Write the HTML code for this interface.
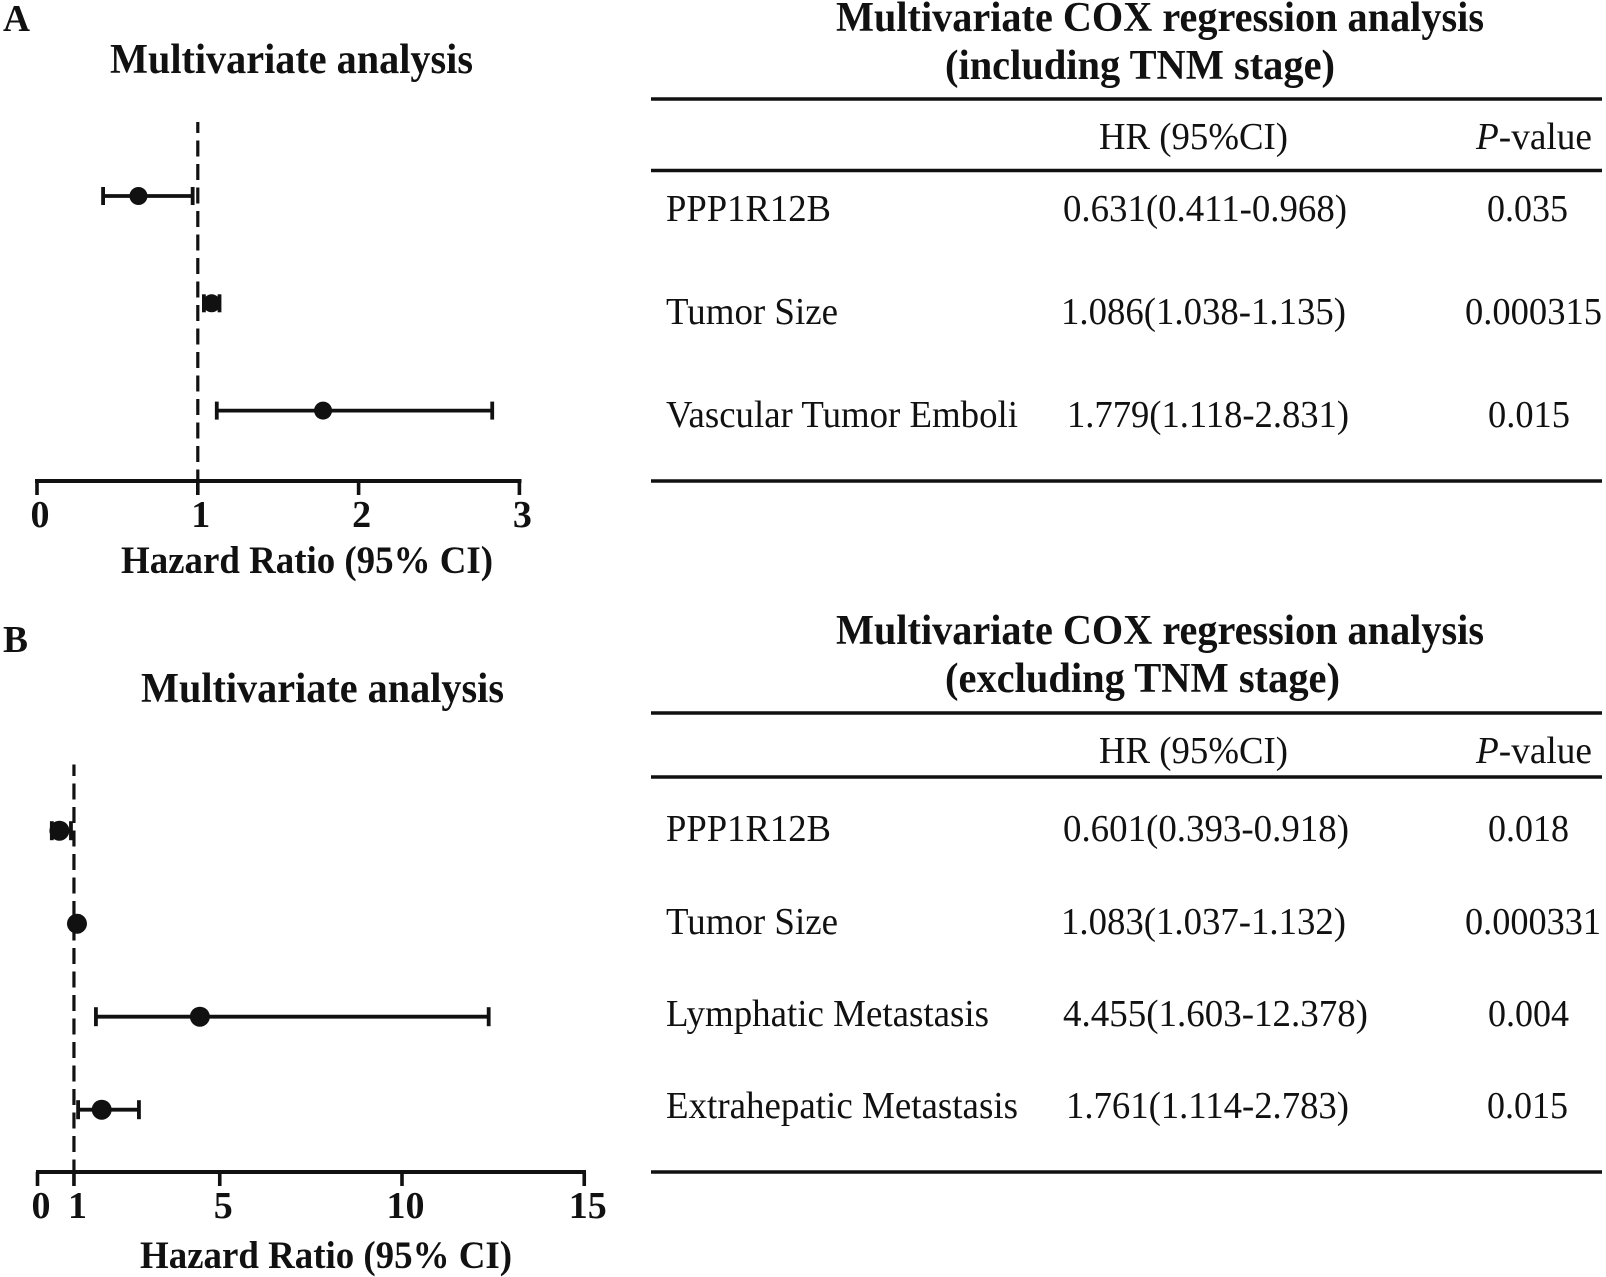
<!DOCTYPE html>
<html lang="en">
<head>
<meta charset="utf-8">
<title>Multivariate analysis forest plots and COX regression tables</title>
<style>
  html, body { margin: 0; padding: 0; background: #fff; }
  body { width: 1606px; height: 1277px; overflow: hidden; }
  svg { display: block; font-family: "Liberation Serif", serif; fill: #111; }
  .b { font-weight: bold; }
  .title { font-size: 42px; font-weight: bold; }
  .cell { font-size: 38px; }
  .panel { font-size: 38px; font-weight: bold; }
  .rule { stroke: #111; stroke-width: 3.6px; }
</style>
</head>
<body>
<svg id="fig" xmlns="http://www.w3.org/2000/svg" width="1606" height="1277" viewBox="0 0 1606 1277">
  <rect x="0" y="0" width="1606" height="1277" fill="#fff"/>

  <text class="panel" x="3" y="31" textLength="27" lengthAdjust="spacingAndGlyphs">A</text>
  <text class="panel" x="3" y="652" textLength="25" lengthAdjust="spacingAndGlyphs">B</text>

  <text class="title" x="110" y="73" textLength="363" lengthAdjust="spacingAndGlyphs">Multivariate analysis</text>
  <text class="title" x="141" y="702" textLength="363" lengthAdjust="spacingAndGlyphs">Multivariate analysis</text>

  <g id="forest-a"></g>
  <g id="forest-b"></g>

  <text class="b" font-size="39" x="121" y="573" textLength="372" lengthAdjust="spacingAndGlyphs">Hazard Ratio (95% CI)</text>
  <text class="b" font-size="39" x="140" y="1268" textLength="372" lengthAdjust="spacingAndGlyphs">Hazard Ratio (95% CI)</text>

  <g>
    <text class="title" x="836" y="31" textLength="648" lengthAdjust="spacingAndGlyphs">Multivariate COX regression analysis</text>
    <text class="title" x="945" y="79" textLength="390" lengthAdjust="spacingAndGlyphs">(including TNM stage)</text>
    <line class="rule" x1="651" x2="1602" y1="99" y2="99"/>
    <text class="cell" x="1099" y="149" textLength="189" lengthAdjust="spacingAndGlyphs">HR (95%CI)</text>
    <text class="cell" x="1476" y="149" textLength="116" lengthAdjust="spacingAndGlyphs"><tspan font-style="italic">P</tspan>-value</text>
    <line class="rule" x1="651" x2="1602" y1="170.5" y2="170.5"/>

    <text class="cell" x="666" y="221" textLength="165" lengthAdjust="spacingAndGlyphs">PPP1R12B</text>
    <text class="cell" x="1063" y="221" textLength="284" lengthAdjust="spacingAndGlyphs">0.631(0.411-0.968)</text>
    <text class="cell" x="1487" y="221" textLength="81" lengthAdjust="spacingAndGlyphs">0.035</text>

    <text class="cell" x="666" y="324" textLength="172" lengthAdjust="spacingAndGlyphs">Tumor Size</text>
    <text class="cell" x="1061" y="324" textLength="285" lengthAdjust="spacingAndGlyphs">1.086(1.038-1.135)</text>
    <text class="cell" x="1465" y="324" textLength="137" lengthAdjust="spacingAndGlyphs">0.000315</text>

    <text class="cell" x="666" y="427" textLength="352" lengthAdjust="spacingAndGlyphs">Vascular Tumor Emboli</text>
    <text class="cell" x="1067" y="427" textLength="282" lengthAdjust="spacingAndGlyphs">1.779(1.118-2.831)</text>
    <text class="cell" x="1488" y="427" textLength="82" lengthAdjust="spacingAndGlyphs">0.015</text>
    <line class="rule" x1="651" x2="1602" y1="481" y2="481"/>
  </g>

  <g>
    <text class="title" x="836" y="644" textLength="648" lengthAdjust="spacingAndGlyphs">Multivariate COX regression analysis</text>
    <text class="title" x="945" y="692" textLength="395" lengthAdjust="spacingAndGlyphs">(excluding TNM stage)</text>
    <line class="rule" x1="651" x2="1602" y1="713" y2="713"/>
    <text class="cell" x="1099" y="763" textLength="189" lengthAdjust="spacingAndGlyphs">HR (95%CI)</text>
    <text class="cell" x="1476" y="763" textLength="116" lengthAdjust="spacingAndGlyphs"><tspan font-style="italic">P</tspan>-value</text>
    <line class="rule" x1="651" x2="1602" y1="777" y2="777"/>

    <text class="cell" x="666" y="841" textLength="165" lengthAdjust="spacingAndGlyphs">PPP1R12B</text>
    <text class="cell" x="1063" y="841" textLength="286" lengthAdjust="spacingAndGlyphs">0.601(0.393-0.918)</text>
    <text class="cell" x="1488" y="841" textLength="81" lengthAdjust="spacingAndGlyphs">0.018</text>

    <text class="cell" x="666" y="934" textLength="172" lengthAdjust="spacingAndGlyphs">Tumor Size</text>
    <text class="cell" x="1061" y="934" textLength="285" lengthAdjust="spacingAndGlyphs">1.083(1.037-1.132)</text>
    <text class="cell" x="1465" y="934" textLength="136" lengthAdjust="spacingAndGlyphs">0.000331</text>

    <text class="cell" x="666" y="1026" textLength="323" lengthAdjust="spacingAndGlyphs">Lymphatic Metastasis</text>
    <text class="cell" x="1063" y="1026" textLength="305" lengthAdjust="spacingAndGlyphs">4.455(1.603-12.378)</text>
    <text class="cell" x="1488" y="1026" textLength="81" lengthAdjust="spacingAndGlyphs">0.004</text>

    <text class="cell" x="666" y="1118" textLength="352" lengthAdjust="spacingAndGlyphs">Extrahepatic Metastasis</text>
    <text class="cell" x="1066" y="1118" textLength="283" lengthAdjust="spacingAndGlyphs">1.761(1.114-2.783)</text>
    <text class="cell" x="1487" y="1118" textLength="81" lengthAdjust="spacingAndGlyphs">0.015</text>
    <line class="rule" x1="651" x2="1602" y1="1172" y2="1172"/>
  </g>
</svg>

<script>
// Panel A data
const categoriesA = ['ppp1r12b', 'tumor-size', 'vascular-tumor-emboli'];
const hazardA = [0.631, 1.086, 1.779];
const lowerA = [0.411, 1.038, 1.118];
const upperA = [0.968, 1.135, 2.831];
const ticksA = [0, 1, 2, 3];
const tickLabelsA = ['0', '1', '2', '3'];

// Panel B data
const categoriesB = ['ppp1r12b', 'tumor-size', 'lymphatic-metastasis', 'extrahepatic-metastasis'];
const hazardB = [0.601, 1.083, 4.455, 1.761];
const lowerB = [0.393, 1.037, 1.603, 1.114];
const upperB = [0.918, 1.132, 12.378, 2.783];
const ticksB = [0, 1, 5, 10, 15];
const tickLabelsB = ['0', '1', '5', '10', '15'];

const referenceValue = 1;

const SVGNS = 'http://www.w3.org/2000/svg';
const INK = '#111';

function make(parent, tag, props) {
  const el = document.createElementNS(SVGNS, tag);
  for (const k in props) el.setAttribute(k, props[k]);
  parent.appendChild(el);
  return el;
}

function drawForest(group, categories, hazard, lower, upper, ticks, tickLabels, layout) {
  const xScale = v => layout.x0 + v * layout.unit;
  const yScale = i => layout.firstRow + i * layout.rowStep;

  // Reference line
  const ref = make(group, 'line', {
    x1: xScale(referenceValue), x2: xScale(referenceValue),
    y1: layout.refTop, y2: layout.axisY,
    stroke: INK, 'stroke-width': 3.2,
    'stroke-dasharray': '16 7.5', 'stroke-dashoffset': layout.dashOffset
  });
  
  

  // Axis
  const axis = make(group, 'line', {
    x1: layout.axisStart, x2: layout.axisEnd,
    y1: layout.axisY, y2: layout.axisY,
    stroke: INK, 'stroke-width': 4
  });
  
  

  ticks.forEach((t, i) => {
    const tick = make(group, 'line', {
      x1: xScale(t), x2: xScale(t),
      y1: layout.axisY, y2: layout.axisY + 14,
      stroke: INK, 'stroke-width': 3.6
    });
    
    

    const label = make(group, 'text', {
      x: xScale(t) + layout.labelShift, y: layout.labelY,
      'text-anchor': 'middle', 'font-size': 38, 'font-weight': 'bold'
    });
    label.textContent = tickLabels[i];
    
    
  });

  // Series marks
  categories.forEach((name, i) => {
    const y = yScale(i);
    const whisker = make(group, 'line', {
      x1: xScale(lower[i]), x2: xScale(upper[i]), y1: y, y2: y,
      stroke: INK, 'stroke-width': 3.8
    });
    
    

    [lower[i], upper[i]].forEach(v => {
      const cap = make(group, 'line', {
        x1: xScale(v), x2: xScale(v),
        y1: y - layout.capHalf, y2: y + layout.capHalf,
        stroke: INK, 'stroke-width': 3.8
      });
      
      
    });

    const point = make(group, 'circle', {
      cx: xScale(hazard[i]), cy: y, r: layout.radius, fill: INK
    });
    
    
  });
}

drawForest(document.getElementById('forest-a'), categoriesA, hazardA, lowerA, upperA, ticksA, tickLabelsA, {
  x0: 37, unit: 160.8, firstRow: 196, rowStep: 107.3, refTop: 122, axisY: 481,
  axisStart: 35, axisEnd: 521.5, dashOffset: 5, labelShift: 3, labelY: 527,
  capHalf: 9, radius: 9
});

drawForest(document.getElementById('forest-b'), categoriesB, hazardB, lowerB, upperB, ticksB, tickLabelsB, {
  x0: 37.5, unit: 36.45, firstRow: 830.7, rowStep: 93, refTop: 764.5, axisY: 1172,
  axisStart: 36, axisEnd: 586, dashOffset: 4.5, labelShift: 3.5, labelY: 1218,
  capHalf: 9.5, radius: 10
});
</script>
</body>
</html>
